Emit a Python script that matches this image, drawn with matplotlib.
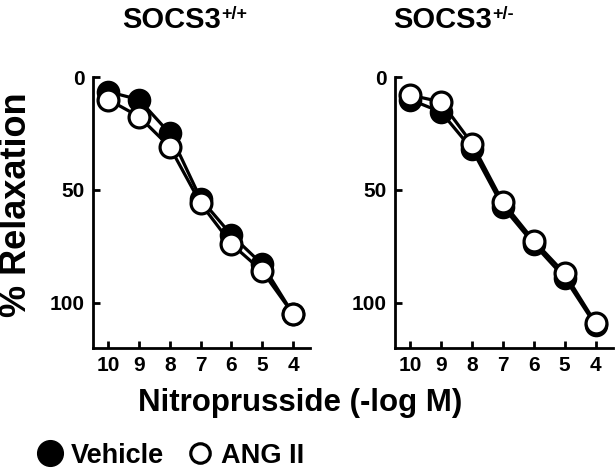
import numpy as np
import matplotlib
matplotlib.use('Agg')
import matplotlib.pyplot as plt
from matplotlib.lines import Line2D

plt.rcParams['font.family'] = ['Liberation Sans', 'DejaVu Sans']
plt.rcParams['font.weight'] = 'bold'

# ── Data ─────────────────────────────────────────────────────────────────────
conc = [10, 9, 8, 7, 6, 5, 4]          # nitroprusside, -log M

wt_vehicle  = [6.5, 10, 25, 54, 70, 83, 105]
wt_ang      = [10, 17.5, 31, 56, 74, 86, 105]
het_vehicle = [10, 15.5, 32, 57.5, 74, 89, 110]
het_ang     = [8, 11, 29.5, 55.5, 72.5, 87, 109]

genotypes = ['+/+', '+/-']
panels = [(wt_vehicle, wt_ang), (het_vehicle, het_ang)]

# ── Figure ───────────────────────────────────────────────────────────────────
fig = plt.figure(figsize=(6.15, 4.7), dpi=100)
ax_pos = [[0.151, 0.260, 0.353, 0.576],
          [0.642, 0.260, 0.354, 0.576]]
title_x = [0.198, 0.639]

for pos, (veh, ang), gt, tx in zip(ax_pos, panels, genotypes, title_x):
    ax = fig.add_axes(pos)
    ax.plot(conc, veh, '-o', color='black', lw=2.3, ms=15,
            mfc='black', mec='black', mew=2, zorder=3)
    ax.plot(conc, ang, '-o', color='black', lw=2.3, ms=15,
            mfc='white', mec='black', mew=2.3, zorder=4)
    ax.set_xlim(10.5, 3.45)
    ax.set_ylim(120, 0)
    ax.set_xticks(conc)
    ax.set_yticks([0, 50, 100])
    for s in ['top', 'right']:
        ax.spines[s].set_visible(False)
    for s in ['left', 'bottom']:
        ax.spines[s].set_linewidth(2)
    ax.tick_params(direction='in', length=5, width=2, labelsize=15, pad=6)
    for lab in ax.get_xticklabels() + ax.get_yticklabels():
        lab.set_fontweight('bold')

    # title with superscript genotype
    t = fig.text(tx, 0.940, 'SOCS3', ha='left', va='baseline', fontsize=21,
                 fontweight='bold')
    ax.annotate(gt, xy=(1.0, 1.0), xycoords=t, xytext=(0.5, 0),
                textcoords='offset points', ha='left', va='top',
                fontsize=13, fontweight='bold', annotation_clip=False)

fig.text(0.027, 0.564, '% Relaxation', rotation=90, ha='center', va='center',
         fontsize=26, fontweight='bold')
fig.text(0.488, 0.142, 'Nitroprusside (-log M)', ha='center', va='center',
         fontsize=22.5, fontweight='bold')

handles = [Line2D([], [], ls='none', marker='o', ms=18.5, mfc='black', mec='black'),
           Line2D([], [], ls='none', marker='o', ms=14, mfc='white', mec='black', mew=2.3)]
fig.legend(handles, ['Vehicle', 'ANG II'], loc='center left',
           bbox_to_anchor=(0.04, 0.030), ncol=2, frameon=False,
           prop={'size': 19.5, 'weight': 'bold'}, handletextpad=0.3,
           columnspacing=0.9, handlelength=0.9, borderpad=0)

fig.savefig('out.png', dpi=100)
